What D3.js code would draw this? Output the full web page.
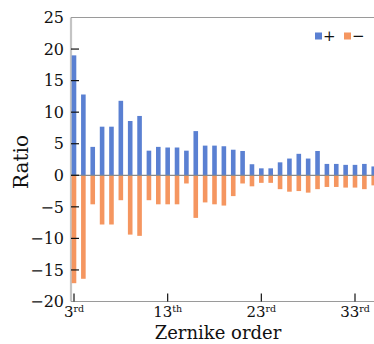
<!DOCTYPE html>
<html>
<head>
<meta charset="utf-8">
<script src="https://cdn.jsdelivr.net/npm/d3@7"></script>
<style>
  body { margin: 0; background: #fff; }
  text { font-family: 'DejaVu Serif', serif; fill: #111; }
</style>
</head>
<body>
<div id="app"></div>
<script>
'use strict'
const orders = d3.range(3, 36)
const positive = [19.0, 12.8, 4.5, 7.7, 7.7, 11.8, 8.6, 9.4, 3.9, 4.5, 4.4, 4.4, 3.9, 7.0, 4.7, 4.7,
  4.6, 4.05, 3.85, 1.75, 1.1, 1.1, 2.05, 2.65, 3.4, 2.65, 3.85, 1.8, 1.8, 1.65, 1.65, 1.8, 1.4]
const negative = [-17.1, -16.4, -4.6, -7.8, -7.8, -3.95, -9.4, -9.6, -3.95, -4.6, -4.6, -4.6, -1.3, -6.75, -4.3, -4.6,
  -4.8, -3.3, -1.3, -1.75, -1.2, -1.2, -2.2, -2.6, -2.5, -2.75, -2.2, -1.85, -1.85, -1.95, -1.95, -2.2, -1.6]
const yTicks = [25, 20, 15, 10, 5, 0, -5, -10, -15, -20]
const xTicks = [3, 13, 23, 33]
const xTickSuffix = ['rd', 'th', 'rd', 'rd']

const W = 374, H = 344
const svg = d3.select('#app').append('svg')
  .attr('width', W)
  .attr('height', H)

const x = d3.scaleLinear().domain([3, 33]).range([74, 355])
const y = d3.scaleLinear().domain([-20, 25]).range([301.5, 17.5])
const left = 71
const barW = 4.6

// frame: left and top lines, bottom axis
svg.append('line')
  .attr('x1', left).attr('x2', left).attr('y1', y(25)).attr('y2', y(-20))
  .style('stroke', '#c4c4c4').style('stroke-width', 2.2)
svg.append('line')
  .attr('x1', left).attr('x2', W).attr('y1', y(25)).attr('y2', y(25))
  .style('stroke', '#9a9a9a').style('stroke-width', 1.2)
svg.append('line')
  .attr('x1', left).attr('x2', W).attr('y1', y(-20)).attr('y2', y(-20))
  .style('stroke', '#9a9a9a').style('stroke-width', 1.2)

// bars
svg.selectAll('.pos')
  .data(positive)
  .enter()
  .append('rect')
  .attr('class', 'pos')
  .attr('x', (d, i) => x(orders[i]) - barW / 2)
  .attr('y', d => y(d))
  .attr('width', barW)
  .attr('height', d => y(0) - y(d))
  .style('fill', '#5a80d2')

svg.selectAll('.neg')
  .data(negative)
  .enter()
  .append('rect')
  .attr('class', 'neg')
  .attr('x', (d, i) => x(orders[i]) - barW / 2)
  .attr('y', y(0))
  .attr('width', barW)
  .attr('height', d => y(d) - y(0))
  .style('fill', '#f59660')

// zero line
svg.append('line')
  .attr('x1', left).attr('x2', W).attr('y1', y(0)).attr('y2', y(0))
  .style('stroke', '#8a8a8a').style('stroke-width', 1.2)

// y ticks (inward) and labels
svg.selectAll('.ytick')
  .data(yTicks.filter(d => d > -20 && d < 25))
  .enter()
  .append('line')
  .attr('x1', left).attr('x2', left + 8)
  .attr('y1', d => y(d)).attr('y2', d => y(d))
  .style('stroke', '#111').style('stroke-width', 1.2)

svg.selectAll('.ylab')
  .data(yTicks)
  .enter()
  .append('text')
  .attr('x', 64)
  .attr('y', d => y(d))
  .attr('dy', '0.36em')
  .attr('text-anchor', 'end')
  .style('font-size', '16px')
  .text(d => d < 0 ? '\u2212' + Math.abs(d) : d)

// x ticks (inward) and labels
svg.selectAll('.xtick')
  .data(xTicks)
  .enter()
  .append('line')
  .attr('x1', d => x(d)).attr('x2', d => x(d))
  .attr('y1', y(-20)).attr('y2', y(-20) - 8)
  .style('stroke', '#111').style('stroke-width', 1.2)

const xl = svg.selectAll('.xlab')
  .data(xTicks)
  .enter()
  .append('text')
  .attr('x', d => x(d))
  .attr('y', 317)
  .attr('text-anchor', 'middle')
  .style('font-size', '15px')
xl.append('tspan').text(d => d)
xl.append('tspan')
  .attr('dy', -5)
  .style('font-size', '9.5px')
  .text((d, i) => xTickSuffix[i])

// axis titles
svg.append('text')
  .attr('x', 218)
  .attr('y', 339)
  .attr('text-anchor', 'middle')
  .style('font-size', '18px')
  .text('Zernike order')

svg.append('text')
  .attr('transform', `translate(28, 162) rotate(-90)`)
  .attr('text-anchor', 'middle')
  .style('font-size', '20px')
  .text('Ratio')

// legend
const legend = [
  { label: '+', color: '#5a80d2', x: 315 },
  { label: '\u2212', color: '#f59660', x: 344 }
]
const lg = svg.selectAll('.legend')
  .data(legend)
  .enter()
  .append('g')
  .attr('transform', d => `translate(${d.x}, 36)`)
lg.append('rect')
  .attr('x', 0).attr('y', -3.5)
  .attr('width', 7).attr('height', 7)
  .style('fill', d => d.color)
lg.append('text')
  .attr('x', 8)
  .attr('dy', '0.36em')
  .style('font-size', '15px')
  .text(d => d.label)
</script>
</body>
</html>
